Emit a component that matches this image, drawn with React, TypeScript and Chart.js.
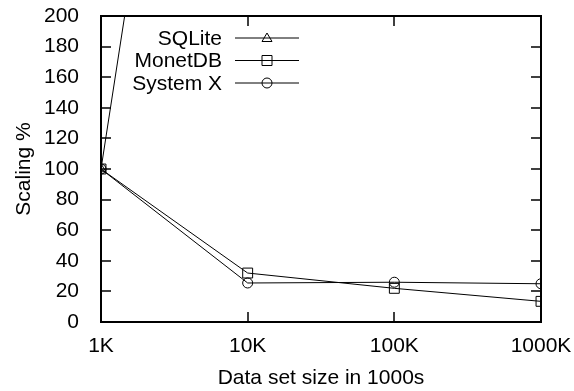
import React, { useEffect, useRef } from 'react';
import { Chart, registerables } from 'chart.js';

Chart.register(...registerables);

// Data
const sizes = [1, 10, 100, 1000];
const sizeLabels = ['1K', '10K', '100K', '1000K'];
const sqlite: (number | null)[] = [100, 720, null, null];
const monetdb = [100, 32, 22, 13.5];
const systemX = [100, 25.5, 26, 25];
const seriesNames = ['SQLite', 'MonetDB', 'System X'];
const yTickValues = [0, 20, 40, 60, 80, 100, 120, 140, 160, 180, 200];

const FONT = '"Liberation Sans", Arial, Helvetica, sans-serif';
const FS = 21;
const markerStyles = ['triangle', 'rect', 'circle'];

function drawMarker(ctx: CanvasRenderingContext2D, style: string, x: number, y: number) {
  ctx.beginPath();
  if (style === 'triangle') {
    ctx.moveTo(x, y - 5);
    ctx.lineTo(x + 5, y + 3.5);
    ctx.lineTo(x - 5, y + 3.5);
    ctx.closePath();
  } else if (style === 'rect') {
    ctx.rect(x - 5, y - 5, 10, 10);
  } else {
    ctx.arc(x, y, 5, 0, Math.PI * 2);
  }
  ctx.stroke();
}

const framePlugin = {
  id: 'gnuFrame',
  afterDatasetsDraw(chart: any) {
    const { ctx, chartArea } = chart;
    const { left, right, top, bottom } = chartArea;
    const xs = chart.scales.x;
    const ys = chart.scales.y;
    ctx.save();
    ctx.strokeStyle = '#000';
    ctx.lineWidth = 2;
    ctx.strokeRect(left, top, right - left, bottom - top);
    ctx.lineWidth = 1.5;
    ctx.beginPath();
    const tl = 10;
    yTickValues.forEach((v) => {
      const py = Math.round(ys.getPixelForValue(v));
      ctx.moveTo(left, py);
      ctx.lineTo(left + tl, py);
      ctx.moveTo(right, py);
      ctx.lineTo(right - tl, py);
    });
    sizes.forEach((v) => {
      const px = Math.round(xs.getPixelForValue(v));
      ctx.moveTo(px, bottom);
      ctx.lineTo(px, bottom - tl);
      ctx.moveTo(px, top);
      ctx.lineTo(px, top + tl);
    });
    ctx.stroke();

    // legend
    ctx.font = FS + 'px ' + FONT;
    ctx.fillStyle = '#000';
    ctx.textAlign = 'right';
    ctx.textBaseline = 'middle';
    ctx.lineWidth = 1;
    const textRight = left + 121;
    seriesNames.forEach((name, i) => {
      const y = top + 22 + i * 22.5;
      ctx.fillText(name, textRight, y + 1);
      ctx.beginPath();
      ctx.moveTo(left + 134, y);
      ctx.lineTo(left + 198, y);
      ctx.stroke();
      drawMarker(ctx, markerStyles[i], left + 166, y);
    });
    ctx.restore();
  },
};

export default function App() {
  const canvasRef = useRef<HTMLCanvasElement | null>(null);

  useEffect(() => {
    if (!canvasRef.current) return;
    const common = {
      borderColor: '#000',
      borderWidth: 1,
      pointBackgroundColor: 'rgba(0,0,0,0)',
      pointBorderColor: '#000',
      pointBorderWidth: 1,
      tension: 0,
      fill: false,
    };
    const toPts = (arr: (number | null)[]) => sizes.map((x, i) => ({ x, y: arr[i] }));
    const chart = new Chart(canvasRef.current, {
      type: 'line',
      data: {
        datasets: [
          { ...common, label: seriesNames[0], data: toPts(sqlite) as any, pointStyle: 'triangle', pointRadius: 5.5 },
          { ...common, label: seriesNames[1], data: toPts(monetdb) as any, pointStyle: 'rect', pointRadius: 7 },
          { ...common, label: seriesNames[2], data: toPts(systemX) as any, pointStyle: 'circle', pointRadius: 5 },
        ],
      },
      options: {
        responsive: false,
        animation: false,
        events: [],
        layout: { padding: { left: 8, top: 16, right: 33, bottom: 0 } },
        plugins: { legend: { display: false }, tooltip: { enabled: false } },
        scales: {
          x: {
            type: 'logarithmic',
            min: 1,
            max: 1000,
            grid: { display: false },
            border: { display: false },
            afterBuildTicks: (s: any) => {
              s.ticks = sizes.map((v) => ({ value: v }));
            },
            afterFit: (s: any) => {
              s.height = 69;
              s.paddingLeft = 0;
              s.paddingRight = 0;
            },
            ticks: {
              autoSkip: false,
              maxRotation: 0,
              padding: 4,
              color: '#000',
              font: { family: FONT, size: FS },
              callback: (v: any) => {
                const i = sizes.indexOf(Number(v));
                return i >= 0 ? sizeLabels[i] : '';
              },
            },
            title: {
              display: true,
              text: 'Data set size in 1000s',
              color: '#000',
              font: { family: FONT, size: FS },
              padding: { top: 0, bottom: 0 },
            },
          },
          y: {
            min: 0,
            max: 200,
            grid: { display: false },
            border: { display: false },
            afterBuildTicks: (s: any) => {
              s.ticks = yTickValues.map((v) => ({ value: v }));
            },
            afterFit: (s: any) => {
              s.width = 93;
              s.paddingTop = 0;
              s.paddingBottom = 0;
            },
            ticks: {
              padding: 14,
              color: '#000',
              font: { family: FONT, size: FS },
            },
            title: {
              display: true,
              text: 'Scaling %',
              color: '#000',
              font: { family: FONT, size: FS },
              padding: { top: 4, bottom: 4 },
            },
          },
        },
      },
      plugins: [framePlugin],
    } as any);
    return () => chart.destroy();
  }, []);

  return (
    <div style={{ position: 'absolute', left: 0, top: 0, width: 574, height: 391, background: '#fff' }}>
      <canvas ref={canvasRef} width={574} height={391} />
    </div>
  );
}
